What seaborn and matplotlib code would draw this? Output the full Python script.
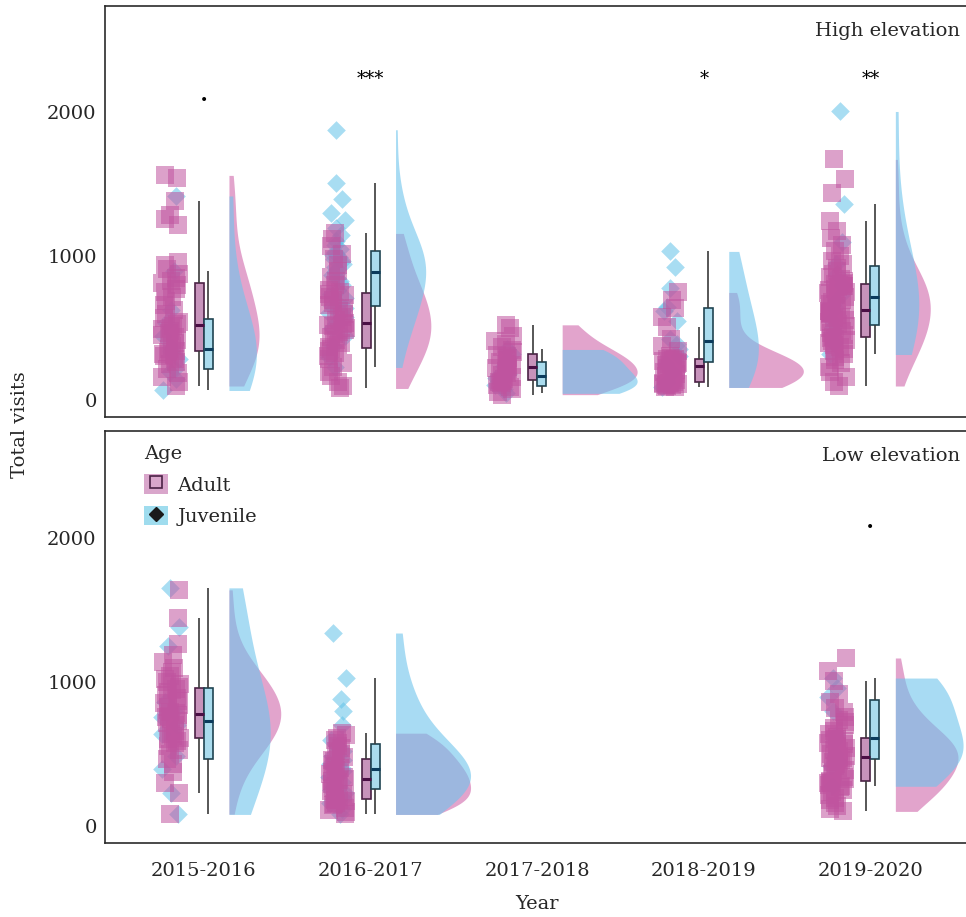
import numpy as np
import pandas as pd
import matplotlib
matplotlib.use("Agg")
import matplotlib.pyplot as plt
import seaborn as sns
from matplotlib.patches import Patch
from matplotlib.lines import Line2D

years = ["2015-2016", "2016-2017", "2017-2018", "2018-2019", "2019-2020"]

# ---- High elevation: total visits per bird ----
high_adult_1516 = [100, 125, 160, 190, 220, 250, 270, 290, 305, 315, 325, 335,
                   345, 360, 380, 400, 420, 440, 455, 470, 485, 495, 505, 515,
                   528, 545, 570, 600, 630, 660, 690, 720, 750, 775, 800, 815,
                   830, 850, 880, 910, 940, 960, 1220, 1257, 1290, 1382, 1545, 1563]
high_juv_1516 = [69, 150, 200, 220, 290, 340, 368, 450, 540, 630, 896, 1420]

high_adult_1617 = [83, 100, 130, 170, 200, 230, 260, 290, 310, 330, 345, 360,
                   370, 385, 400, 420, 440, 460, 475, 490, 505, 515, 525, 530,
                   540, 560, 580, 600, 620, 640, 660, 680, 700, 715, 730, 740,
                   752, 770, 800, 830, 860, 900, 940, 980, 1020, 1070, 1120, 1160]
high_juv_1617 = [229, 300, 380, 450, 500, 540, 580, 610, 630, 645,
                 656, 680, 710, 740, 770, 800, 830, 850, 870, 884,
                 894, 910, 930, 950, 965, 980, 995, 1010, 1020, 1030,
                 1050, 1080, 1110, 1150, 1200, 1250, 1300, 1400, 1507, 1880]

high_adult_1718 = [40, 60, 80, 95, 110, 120, 128, 135,
                   142, 150, 160, 175, 190, 205, 215, 225,
                   235, 245, 255, 265, 280, 295, 305, 315,
                   335, 350, 370, 390, 410, 450, 500, 525]
high_juv_1718 = [49, 80, 95, 105, 155, 180, 240, 280, 320, 354]

high_adult_1819 = [90, 95, 100, 105, 110, 112, 115, 118, 120, 123,
                   126, 140, 155, 170, 185, 200, 210, 220, 228, 233,
                   239, 245, 250, 255, 262, 268, 274, 280, 285, 288,
                   297, 310, 340, 380, 430, 507, 580, 640, 700, 750]
high_juv_1819 = [90, 125, 200, 250, 310, 360, 390, 430, 550, 620, 650, 780, 930, 1035]

high_adult_1920 = [100, 130, 160, 200, 230, 260, 280, 300, 320, 340, 355, 370,
                   385, 400, 410, 420, 428, 434,
                   442, 455, 470, 485, 500, 515, 530, 545, 560, 570, 580, 590,
                   598, 605, 610, 615, 618, 622,
                   628, 640, 655, 670, 685, 700, 715, 730, 745, 755, 765, 775,
                   785, 792, 798, 803, 807, 810,
                   818, 830, 845, 860, 880, 900, 920, 945, 970, 1000, 1040, 1080,
                   1130, 1180, 1243, 1444, 1535, 1674]
high_juv_1920 = [319, 400, 480, 510, 560, 640, 690, 740, 800, 880, 950, 1100, 1361, 2007]

# ---- Low elevation ----
low_adult_1516 = [85, 229, 300, 380, 430, 470, 500, 530, 555, 575, 590, 605,
                  613, 625, 640, 660, 680, 700, 715, 730, 745, 755, 765, 773,
                  783, 795, 810, 825, 840, 855, 870, 890, 910, 930, 945, 955,
                  968, 985, 1000, 1020, 1045, 1070, 1100, 1140, 1190, 1264, 1444, 1639]
low_juv_1516 = [83, 230, 400, 487, 640, 700, 758, 800, 861, 1250, 1380, 1653]

low_adult_1617 = [83, 100, 115, 130, 145, 155, 165, 175, 182, 186,
                  190, 205, 225, 245, 265, 280, 295, 305, 315, 322,
                  330, 345, 360, 375, 390, 405, 420, 435, 450, 460,
                  480, 500, 520, 540, 560, 580, 600, 615, 630, 646]
low_juv_1617 = [83, 120, 160, 200, 230, 250, 259, 280, 310, 340, 365, 385,
                407, 430, 460, 490, 520, 560, 596, 700, 800, 880, 1028, 1340]

low_adult_1920 = [104, 120, 140, 160, 180, 200, 220, 240, 255, 270, 280, 290, 298, 304, 308,
                  316, 330, 345, 360, 375, 390, 405, 420, 432, 444, 455, 463, 469, 473, 476,
                  482, 490, 500, 510, 520, 530, 540, 550, 560, 570, 580, 590, 598, 604, 608,
                  620, 640, 660, 680, 700, 720, 740, 760, 790, 820, 860, 920, 1007, 1076, 1167]
low_juv_1920 = [278, 420, 455, 505, 590, 632, 800, 900, 960, 1028]

# significance marks per year (high, low)
sig_high = ["\u2022", "***", "", "*", "**"]
sig_low = ["", "", "", "", "\u2022"]


def long_frame(groups):
    rows = []
    for year, age, vals in groups:
        for v in vals:
            rows.append({"Year": year, "Age": age, "Visits": v,
                         "pos": years.index(year)})
    return pd.DataFrame(rows)


high_df = long_frame([
    ("2015-2016", "Adult", high_adult_1516), ("2015-2016", "Juvenile", high_juv_1516),
    ("2016-2017", "Adult", high_adult_1617), ("2016-2017", "Juvenile", high_juv_1617),
    ("2017-2018", "Adult", high_adult_1718), ("2017-2018", "Juvenile", high_juv_1718),
    ("2018-2019", "Adult", high_adult_1819), ("2018-2019", "Juvenile", high_juv_1819),
    ("2019-2020", "Adult", high_adult_1920), ("2019-2020", "Juvenile", high_juv_1920),
])
low_df = long_frame([
    ("2015-2016", "Adult", low_adult_1516), ("2015-2016", "Juvenile", low_juv_1516),
    ("2016-2017", "Adult", low_adult_1617), ("2016-2017", "Juvenile", low_juv_1617),
    ("2019-2020", "Adult", low_adult_1920), ("2019-2020", "Juvenile", low_juv_1920),
])

sns.set_theme(style="white")
plt.rcParams["font.family"] = ["DejaVu Serif"]
plt.rcParams["font.size"] = 14
np.random.seed(7)

AGES = ["Adult", "Juvenile"]
point_col = {"Adult": "#c0549f", "Juvenile": "#62c2e8"}
cloud_col = {"Adult": "#d067ab", "Juvenile": "#6ec4ec"}
box_face = {"Adult": "#c793bb", "Juvenile": "#aadcee"}
box_edge = {"Adult": "#4b2145", "Juvenile": "#1f4452"}
median_col = {"Adult": "#4a0f45", "Juvenile": "#0b3b5c"}
markers = {"Adult": "s", "Juvenile": "D"}
sizes = {"Adult": 13, "Juvenile": 9.5}
box_shift = {"Adult": -0.027, "Juvenile": 0.027}
RAIN_SHIFT = -0.2
CLOUD_SHIFT = 0.15
CLOUD_WIDTH = 0.45

fig = plt.figure(figsize=(9.66, 9.17), dpi=100)
ax_hi = fig.add_axes([0.1087, 0.5453, 0.8913, 0.4482])
ax_lo = fig.add_axes([0.1087, 0.0807, 0.8913, 0.4493])


def draw_panel(ax, df):
    # half-violin "clouds", both ages on the right side of the year;
    # a split half starts half a width left of its anchor
    for age in AGES:
        sub = df[df["Age"] == age].assign(
            xc=lambda d: d["pos"] + CLOUD_SHIFT + CLOUD_WIDTH / 2)
        other = [a for a in AGES if a != age][0]
        sns.violinplot(data=sub, x="xc", y="Visits", hue="Age",
                       hue_order=[other, age], palette=cloud_col,
                       split=True, inner=None, cut=0, width=CLOUD_WIDTH,
                       bw_adjust=1.2, dodge=False, native_scale=True,
                       orient="x", linewidth=0, saturation=1, alpha=0.6,
                       legend=False, ax=ax)
    # jittered raw points
    for age in ["Juvenile", "Adult"]:
        sub = df[df["Age"] == age].assign(xr=lambda d: d["pos"] + RAIN_SHIFT)
        sns.stripplot(data=sub, x="xr", y="Visits", native_scale=True,
                      orient="x", color=point_col[age], marker=markers[age],
                      size=sizes[age], jitter=0.055, alpha=0.55, linewidth=0,
                      ax=ax, zorder=3)
    # narrow boxes, adult left / juvenile right of the tick
    for age in AGES:
        sub = df[df["Age"] == age].assign(xb=lambda d: d["pos"] + box_shift[age])
        sns.boxplot(data=sub, x="xb", y="Visits", native_scale=True,
                    orient="x", width=0.054, color=box_face[age], saturation=1,
                    linecolor=box_edge[age], linewidth=1.2, showcaps=False,
                    showfliers=False, whis=1.5,
                    medianprops=dict(color=median_col[age], linewidth=2.2),
                    whiskerprops=dict(color="#3a3a3a", linewidth=1.2),
                    ax=ax)
    ax.set_xlim(-0.594, 4.574)
    ax.set_ylim(-115, 2740)
    ax.set_yticks([0, 1000, 2000])
    ax.set_yticklabels(["0", "1000", "2000"], fontsize=14)
    ax.set_xlabel("")
    ax.set_ylabel("")
    for side in ["left", "top", "bottom"]:
        ax.spines[side].set_color("#2b2b2b")
        ax.spines[side].set_linewidth(1.2)
    ax.spines["right"].set_visible(False)
    ax.tick_params(axis="y", direction="in", length=7, width=1,
                   color="#2b2b2b", pad=6)


draw_panel(ax_hi, high_df)
draw_panel(ax_lo, low_df)

ax_hi.set_xticks([])
ax_lo.set_xticks(range(len(years)))
ax_lo.set_xticklabels(years, fontsize=14)
ax_lo.tick_params(axis="x", direction="in", length=7, width=1,
                  color="#2b2b2b", pad=14)

for ax, marks, dot_y in [(ax_hi, sig_high, 2080), (ax_lo, sig_low, 2070)]:
    for i, s in enumerate(marks):
        if s == "\u2022":
            ax.text(i, dot_y, s, ha="center", va="center", fontsize=10,
                    color="black")
        elif s:
            ax.text(i, 2230, s, ha="center", va="center", fontsize=13,
                    color="black")

ax_hi.text(0.993, 0.939, "High elevation", transform=ax_hi.transAxes,
           ha="right", va="center", fontsize=14)
ax_lo.text(0.993, 0.939, "Low elevation", transform=ax_lo.transAxes,
           ha="right", va="center", fontsize=14)

handles = [
    (Patch(facecolor="#d9a6cb", edgecolor="none"),
     Line2D([], [], marker="s", linestyle="none", markersize=8,
            markerfacecolor="none", markeredgecolor="#4b2145", markeredgewidth=1.2)),
    (Patch(facecolor="#9fdcee", edgecolor="none"),
     Line2D([], [], marker="D", linestyle="none", markersize=7,
            markerfacecolor="#1a1a1a", markeredgecolor="#1a1a1a")),
]
leg = ax_lo.legend(handles, AGES, title="Age", loc="upper left",
                   bbox_to_anchor=(0.03, 1.0), frameon=False, fontsize=14,
                   title_fontsize=14, handlelength=1.2, handleheight=1.15,
                   handletextpad=0.5, labelspacing=0.6, alignment="left",
                   borderaxespad=0.3)

fig.text(0.021, 0.5365, "Total visits", rotation=90, ha="center",
         va="center", fontsize=14)
fig.text(0.556, 0.0142, "Year", ha="center", va="center", fontsize=14)

fig.savefig("out.png", dpi=100)
